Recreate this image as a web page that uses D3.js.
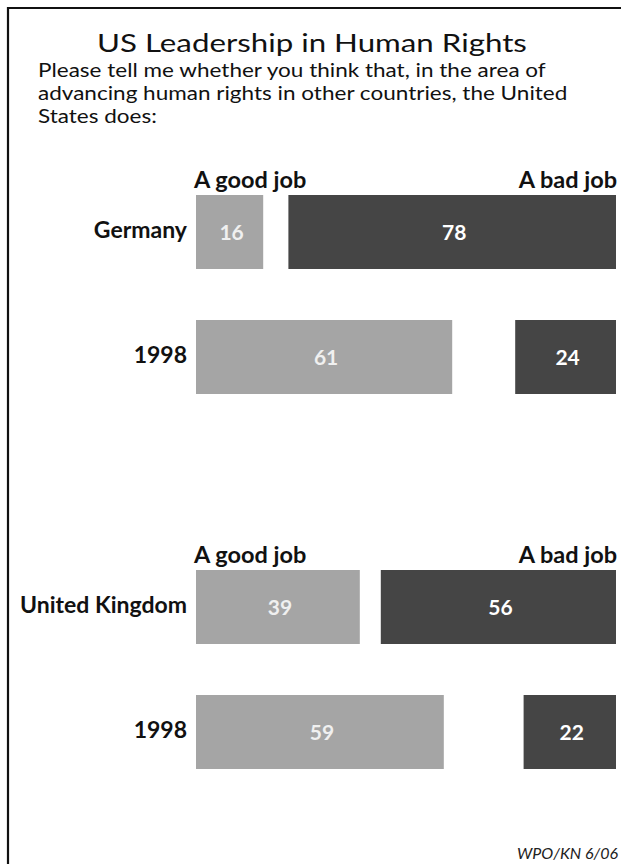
<!DOCTYPE html>
<html>
<head>
<meta charset="utf-8">
<script src="https://cdn.jsdelivr.net/npm/d3@7"></script>
<style>
  body { margin: 0; background: #fff; }
  svg { display: block; }
</style>
</head>
<body>
<svg id="chart" width="621" height="864"></svg>
<script>
//////////////////////////////////////
// Data

const titleText = 'US Leadership in Human Rights'
const questionLines = [
	'Please tell me whether you think that, in the area of',
	'advancing human rights in other countries, the United',
	'States does:'
]
const countries = ['Germany', 'United Kingdom']
const rowLabels = ['Germany', '1998', 'United Kingdom', '1998']
const rowCountry = ['Germany', 'Germany', 'United Kingdom', 'United Kingdom']
const goodJob = [16, 61, 39, 59]
const badJob = [78, 24, 56, 22]
const headerGood = 'A good job'
const headerBad = 'A bad job'
const source = 'WPO/KN 6/06'

//////////////////////////////////////
// Layout

const width = 621, height = 864
const goodLeft = 196
const badRight = 616
const goodColor = '#a5a5a5'
const badColor = '#454545'

const svg = d3.select('#chart')

// frame (left + top rules only)
svg.append('path')
	.attr('d', 'M8,' + height + 'V8H' + width)
	.attr('fill', 'none')
	.attr('stroke', '#111')
	.attr('stroke-width', 2.2)

// rows: a spacer band between the two countries
const rowKeys = rowLabels.map((d, i) => rowCountry[i] + '|' + i)
const bandKeys = [rowKeys[0], rowKeys[1], 'gap', rowKeys[2], rowKeys[3]]

const y = d3.scaleBand()
	.domain(bandKeys)
	.range([195, 769])
	.paddingInner(0.408)
	.paddingOuter(0)

const x = d3.scaleLinear()
	.domain([0, 100])
	.range([0, 420])

//////////////////////////////////////
// Titles (the original face is a wide Optima, so stretch a bit)

const title = svg.append('text')
	.attr('y', 52)
	.style('font-family', 'Lato')
	.style('font-size', '25px')
	.attr('fill', '#111')
	.text(titleText)
var tw = title.node().getComputedTextLength()
title.attr('transform', 'translate(97,0) scale(' + (430 / tw) + ',1)')

const question = svg.append('g')
question.selectAll('text')
	.data(questionLines)
	.enter().append('text')
	.attr('x', 0)
	.attr('y', (d, i) => 77 + i * 23)
	.style('font-family', 'Lato')
	.style('font-size', '19px')
	.attr('fill', '#111')
	.text(d => d)
var qw = question.select('text').node().getComputedTextLength()
question.attr('transform', 'translate(38,0) scale(' + (508 / qw) + ',1)')

//////////////////////////////////////
// Column headers per country

const headers = svg.append('g').selectAll('g')
	.data(countries)
	.enter().append('g')

headers.append('text')
	.attr('x', goodLeft - 2)
	.attr('y', d => y(rowKeys[rowCountry.indexOf(d)]) - 7)
	.style('font-family', 'Lato')
	.style('font-weight', 'bold')
	.style('font-size', '23.5px')
	.attr('fill', '#111')
	.text(headerGood)

headers.append('text')
	.attr('x', badRight + 1)
	.attr('y', d => y(rowKeys[rowCountry.indexOf(d)]) - 7)
	.attr('text-anchor', 'end')
	.style('font-family', 'Lato')
	.style('font-weight', 'bold')
	.style('font-size', '23.5px')
	.attr('fill', '#111')
	.text(headerBad)

//////////////////////////////////////
// Bars

const rows = svg.append('g').selectAll('g')
	.data(rowLabels.map((d, i) => ({key: rowKeys[i], label: d, good: goodJob[i], bad: badJob[i]})))
	.enter().append('g')
	.attr('transform', d => 'translate(0,' + y(d.key) + ')')

rows.append('rect')
	.attr('x', goodLeft)
	.attr('width', d => x(d.good))
	.attr('height', y.bandwidth())
	.attr('fill', goodColor)

rows.append('rect')
	.attr('x', d => badRight - x(d.bad))
	.attr('width', d => x(d.bad))
	.attr('height', y.bandwidth())
	.attr('fill', badColor)

rows.append('text')
	.attr('x', goodLeft - 9)
	.attr('y', y.bandwidth() / 2)
	.attr('dy', '0.28em')
	.attr('text-anchor', 'end')
	.style('font-family', 'Lato')
	.style('font-weight', 'bold')
	.style('font-size', '23px')
	.attr('fill', '#111')
	.text(d => d.label)

rows.append('text')
	.attr('x', d => goodLeft + x(d.good) / 2 + 2)
	.attr('y', y.bandwidth() / 2)
	.attr('dy', '0.36em')
	.attr('text-anchor', 'middle')
	.style('font-family', 'Lato')
	.style('font-weight', 'bold')
	.style('font-size', '21px')
	.attr('fill', '#f0f0f0')
	.text(d => d.good)

rows.append('text')
	.attr('x', d => badRight - x(d.bad) / 2 + 2)
	.attr('y', y.bandwidth() / 2)
	.attr('dy', '0.36em')
	.attr('text-anchor', 'middle')
	.style('font-family', 'Lato')
	.style('font-weight', 'bold')
	.style('font-size', '21px')
	.attr('fill', '#fff')
	.text(d => d.bad)

//////////////////////////////////////
// Source

svg.append('text')
	.attr('x', 618).attr('y', 859)
	.attr('text-anchor', 'end')
	.style('font-family', 'Lato')
	.style('font-style', 'italic')
	.style('font-size', '16px')
	.attr('fill', '#222')
	.text(source)
</script>
</body>
</html>
